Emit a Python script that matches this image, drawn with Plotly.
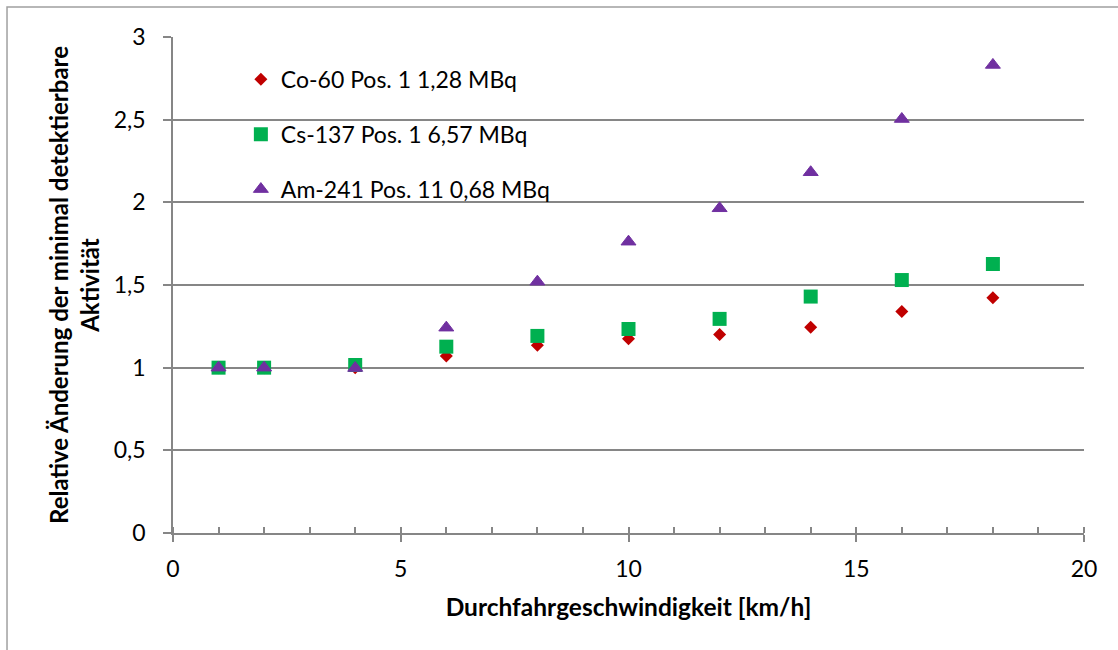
import plotly.graph_objects as go

speed = [1, 2, 4, 6, 8, 10, 12, 14, 16, 18]
co60 = [1.0, 1.0, 1.0, 1.07, 1.135, 1.175, 1.20, 1.245, 1.34, 1.423]
cs137 = [1.0, 1.0, 1.016, 1.127, 1.192, 1.234, 1.295, 1.43, 1.53, 1.627]
am241 = [1.0, 1.0, 0.998, 1.242, 1.52, 1.762, 1.964, 2.182, 2.504, 2.831]

names = ["Co-60 Pos. 1 1,28 MBq", "Cs-137 Pos. 1 6,57 MBq", "Am-241 Pos. 11 0,68 MBq"]
colors = ["#C00000", "#00B050", "#7030A0"]
symbols = ["diamond", "square", "triangle-up"]
sizes = [10, 14, 13]
lines = [0, 0, 1]

FONT = "Lato"
GRID = "#868686"

fig = go.Figure()
for i, ys in enumerate([co60, cs137, am241]):
    fig.add_trace(go.Scatter(
        x=speed, y=ys, mode="markers", name=names[i], legendgroup=f"g{i}",
        marker=dict(symbol=symbols[i], color=colors[i], size=sizes[i],
                    line=dict(width=lines[i], color=colors[i])),
    ))

# invisible trace on overlay axis for crossing major ticks
fig.add_trace(go.Scatter(x=[0, 20], y=[0, 0], xaxis="x2", mode="markers",
                         marker=dict(opacity=0), showlegend=False, hoverinfo="skip"))

fig.update_layout(
    width=1118, height=650,
    margin=dict(l=173, r=34, t=37, b=117),
    paper_bgcolor="white", plot_bgcolor="white",
    font=dict(family=FONT, color="black"),
    separators=",.",
    showlegend=True,
    legend=dict(x=0.0745, y=0.958, xanchor="left", yanchor="top",
                bgcolor="rgba(0,0,0,0)", borderwidth=0,
                font=dict(family=FONT, size=23, color="black"),
                tracegroupgap=22, itemsizing="trace"),
    xaxis=dict(range=[0, 20], dtick=5, tick0=0, showgrid=False, zeroline=False,
               showline=True, linecolor=GRID, linewidth=1.5,
               ticks="outside", ticklen=7, tickcolor=GRID, tickwidth=1.5,
               ticklabelstandoff=8,
               minor=dict(dtick=1, ticks="inside", ticklen=6, tickcolor=GRID, tickwidth=1.5),
               tickfont=dict(family=FONT, size=23),
               title=dict(text="<b>Durchfahrgeschwindigkeit [km/h]</b>",
                          font=dict(family=FONT, size=24.5), standoff=18)),
    xaxis2=dict(range=[0, 20], dtick=5, tick0=0, overlaying="x", side="bottom",
                showgrid=False, zeroline=False, showline=False, showticklabels=False,
                ticks="inside", ticklen=6, tickcolor=GRID, tickwidth=1.5),
    yaxis=dict(range=[0, 3], dtick=0.5, tick0=0, showgrid=True, gridcolor=GRID, gridwidth=1.5,
               zeroline=False, showline=True, linecolor=GRID, linewidth=1.5,
               ticks="outside", ticklen=8, tickcolor=GRID, tickwidth=1.5,
               ticklabelstandoff=13,
               tickformat=".1~f",
               tickfont=dict(family=FONT, size=23),
               title=dict(text="<b>Relative Änderung der minimal detektierbare<br>Aktivität</b>",
                          font=dict(family=FONT, size=24), standoff=7)),
    shapes=[
        dict(type="rect", xref="paper", yref="paper", x0=0.0362, x1=0.4709, y0=0.641, y1=0.984,
             fillcolor="white", line=dict(width=0), layer="between"),
        dict(type="rect", xref="paper", yref="paper", x0=-0.1822, x1=1.05, y0=-0.26, y1=1.0605,
             fillcolor="rgba(0,0,0,0)", line=dict(color="#A0A0A0", width=1.5), layer="above"),
    ],
)

fig.write_html("out.html")
